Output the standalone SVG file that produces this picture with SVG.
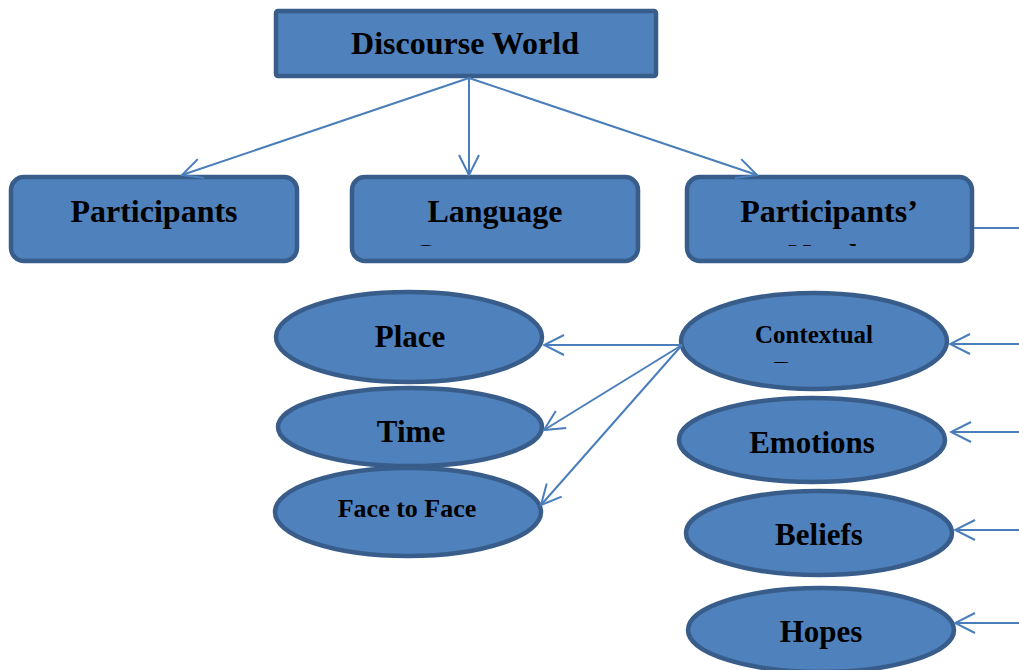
<svg xmlns="http://www.w3.org/2000/svg" width="1019" height="670" viewBox="0 0 1019 670">
  <style>
    .box { fill: #4F81BD; stroke: #385D8A; stroke-width: 4.5; }
    .lbl { font-family: "Liberation Serif", "Times New Roman", serif; font-weight: bold; fill: #000; text-anchor: middle; }
    .big { font-size: 32px; }
    .mid { font-size: 31px; }
    .link { fill: none; stroke: #4A7EBB; stroke-width: 2; }
  </style>
  <defs>
    <marker id="chevron" viewBox="-22 -12 24 24" refX="0" refY="0" markerWidth="24" markerHeight="24" markerUnits="userSpaceOnUse" orient="auto">
      <path d="M-20,-10 L0,0 L-20,10" fill="none" stroke="#4A7EBB" stroke-width="2"/>
    </marker>
    <clipPath id="clip-language"><rect x="355" y="180" width="280" height="66"/></clipPath>
    <clipPath id="clip-needs"><rect x="690" y="180" width="280" height="66"/></clipPath>
    <clipPath id="clip-context"><rect x="682" y="294" width="264" height="69"/></clipPath>
  </defs>

  <rect width="1019" height="670" fill="#fff"/>

  <g id="discourse-world">
    <rect class="box" x="276" y="11" width="380" height="65" rx="2"/>
    <text class="lbl big" x="465" y="54">Discourse World</text>
  </g>

  <g id="participants">
    <rect class="box" x="11" y="177" width="286" height="84" rx="13"/>
    <text class="lbl big" x="154" y="222">Participants</text>
  </g>

  <g id="language">
    <rect class="box" x="352" y="177" width="286" height="84" rx="13"/>
    <text class="lbl big" x="495" y="222">Language</text>
    <text class="lbl big" x="497" y="266" clip-path="url(#clip-language)">Competence</text>
  </g>

  <g id="participants-needs">
    <rect class="box" x="687" y="177" width="285" height="84" rx="13"/>
    <text class="lbl big" x="829" y="222">Participants’</text>
    <text class="lbl big" x="829" y="266" clip-path="url(#clip-needs)">Needs</text>
  </g>

  <g id="place">
    <ellipse class="box" cx="409" cy="337" rx="133" ry="45"/>
    <text class="lbl mid" x="410" y="347">Place</text>
  </g>

  <g id="time">
    <ellipse class="box" cx="410" cy="427" rx="132" ry="39"/>
    <text class="lbl mid" x="411" y="442">Time</text>
  </g>

  <g id="face-to-face">
    <ellipse class="box" cx="408" cy="512" rx="133" ry="44"/>
    <text class="lbl" style="font-size:26px" x="407" y="517">Face to Face</text>
  </g>

  <g id="contextual-factors">
    <ellipse class="box" cx="814" cy="341" rx="133" ry="48"/>
    <text class="lbl" style="font-size:25px" x="814" y="343">Contextual</text>
    <text class="lbl" style="font-size:25px" x="814" y="378.5" clip-path="url(#clip-context)">Factors</text>
  </g>

  <g id="emotions">
    <ellipse class="box" cx="812" cy="440" rx="133" ry="42"/>
    <text class="lbl mid" x="812" y="453">Emotions</text>
  </g>

  <g id="beliefs">
    <ellipse class="box" cx="819" cy="533" rx="133" ry="42"/>
    <text class="lbl mid" x="819" y="545">Beliefs</text>
  </g>

  <g id="hopes">
    <ellipse class="box" cx="821" cy="630" rx="133" ry="42"/>
    <text class="lbl mid" x="821" y="642">Hopes</text>
  </g>

  <g id="connectors">
    <line class="link" x1="469" y1="78" x2="182" y2="175" marker-end="url(#chevron)"/>
    <line class="link" x1="469" y1="78" x2="469" y2="175" marker-end="url(#chevron)"/>
    <line class="link" x1="469" y1="78" x2="757" y2="175" marker-end="url(#chevron)"/>
    <line class="link" x1="974" y1="228" x2="1019" y2="228"/>

    <line class="link" x1="682" y1="345" x2="544" y2="345" marker-end="url(#chevron)"/>
    <line class="link" x1="682" y1="345" x2="544" y2="430" marker-end="url(#chevron)"/>
    <line class="link" x1="682" y1="345" x2="541" y2="505" marker-end="url(#chevron)"/>

    <line class="link" x1="1019" y1="344" x2="950" y2="344" marker-end="url(#chevron)"/>
    <line class="link" x1="1019" y1="432" x2="951" y2="432" marker-end="url(#chevron)"/>
    <line class="link" x1="1019" y1="530" x2="955" y2="530" marker-end="url(#chevron)"/>
    <line class="link" x1="1019" y1="623" x2="955" y2="623" marker-end="url(#chevron)"/>
  </g>
</svg>
